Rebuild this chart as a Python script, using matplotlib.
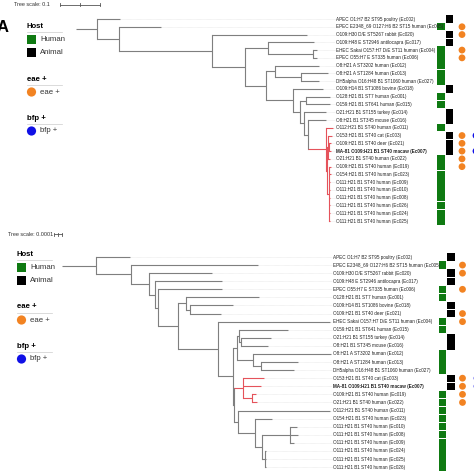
import matplotlib.pyplot as plt
from matplotlib.patches import Rectangle, Circle

plt.rcParams['font.family'] = ['Liberation Sans', 'DejaVu Sans']

# strain descriptions
STRAINS = {
    'Ec001': 'O128:H21 B1 ST7 human',
    'Ec002': 'APEC O1:H7 B2 ST95 poultry',
    'Ec003': 'O153:H21 B1 ST40 cat',
    'Ec004': 'EHEC Sakai O157:H7 D/E ST11 human',
    'Ec005': 'EPEC E2348_69 O127:H6 B2 ST15 human',
    'Ec006': 'EPEC O55:H7 E ST335 human',
    'Ec007': 'MA-81 O109:H21 B1 ST40 macaw',
    'Ec008': 'O111:H21 B1 ST40 human',
    'Ec009': 'O111:H21 B1 ST40 human',
    'Ec010': 'O111:H21 B1 ST40 human',
    'Ec011': 'O112:H21 B1 ST40 human',
    'Ec012': 'O8:H21 A ST3202 human',
    'Ec013': 'O8:H21 A ST1284 human',
    'Ec014': 'O21:H21 B1 ST155 turkey',
    'Ec015': 'O159:H21 B1 ST641 human',
    'Ec016': 'O8:H21 B1 ST345 mouse',
    'Ec017': 'O109:H48 E ST2946 antilocapra',
    'Ec018': 'O109:H14 B1 ST1086 bovine',
    'Ec019': 'O109:H21 B1 ST40 human',
    'Ec020': 'O109:H30 D/E ST5267 rabbit',
    'Ec021': 'O109:H21 B1 ST40 deer',
    'Ec022': 'O21:H21 B1 ST40 human',
    'Ec023': 'O154:H21 B1 ST40 human',
    'Ec024': 'O111:H21 B1 ST40 human',
    'Ec025': 'O111:H21 B1 ST40 human',
    'Ec026': 'O111:H21 B1 ST40 human',
    'Ec027': 'DH5alpha O16:H48 B1 ST1060 human',
}
ANIMAL_HOST = ['Ec002', 'Ec020', 'Ec017', 'Ec018', 'Ec014', 'Ec016', 'Ec003', 'Ec021', 'Ec007']
EAE_POS = ['Ec005', 'Ec020', 'Ec004', 'Ec006', 'Ec003', 'Ec021', 'Ec007', 'Ec022', 'Ec019']
BFP_POS = ['Ec003', 'Ec007']
HIGHLIGHT = 'Ec007'

# tree A, branch lengths in units of 1e-3
TREE_A = ("(Ec002:57.5,(Ec005:105,(Ec020:237.5,((Ec017:115,(Ec004:10,Ec006:10):112.5):57.5,"
          "((Ec012:110,(Ec013:67.5,Ec027:45):65):22.5,(Ec018:75,((Ec001:60,Ec015:60):15,"
          "(Ec014:55,(Ec016:45,(Ec011:17.5,((Ec003:10,(Ec021:5,Ec007:5):2.5,Ec022:5):2.5,"
          "(Ec019:5,Ec023:5,Ec009:2.5,Ec010:2.5,Ec008:2.5,Ec026:2.5,Ec024:2.5,Ec025:2.5):5):2.5):45"
          "):10):10):17.5):67.5):52.5):82.5):232.5):55):52.5;")
RED_A = ['Ec011', 'Ec003', 'Ec021', 'Ec007', 'Ec022', 'Ec019', 'Ec023',
         'Ec009', 'Ec010', 'Ec008', 'Ec026', 'Ec024', 'Ec025']
SCALE_A = 0.1
UNIT_A = 1e-3

# tree B, branch lengths in units of 1e-5
TREE_B = ("(Ec002:42,(Ec005:158,(Ec020:79,(Ec017:84,(Ec006:80,((Ec001:91,(Ec018:54,Ec021:39):4):10,"
          "(Ec004:141,(((Ec015:61,(Ec014:38,Ec016:34):2.5):2.5,(Ec012:98,(Ec013:46,Ec027:41):10):20):5,"
          "((Ec003:26,Ec007:22,(Ec019:5,Ec022:6):11):12,(Ec011:115,(Ec023:21,"
          "((Ec010:8,Ec008:9,Ec009:5):36,(Ec024:1,Ec025:2,Ec026:1):4):8):21):6):1):19):49):25):4):8):22):44):42;")
RED_B = ['Ec003', 'Ec007', 'Ec019', 'Ec022']
SCALE_B = 0.0001
UNIT_B = 1e-5

GRAY = '#7f7f7f'
RED = '#e5535b'
GREEN = '#0f7a12'
ORANGE = '#f28322'
BLUE = '#1010e6'


def parse_newick(s):
    pos = 0

    def node():
        nonlocal pos
        children = []
        if s[pos] == '(':
            pos += 1
            while True:
                children.append(node())
                if s[pos] == ',':
                    pos += 1
                else:
                    break
            pos += 1
        start = pos
        while s[pos] not in ',():;':
            pos += 1
        name = s[start:pos]
        length = 0.0
        if s[pos] == ':':
            pos += 1
            start = pos
            while s[pos] not in ',();':
                pos += 1
            length = float(s[start:pos])
        return {'name': name, 'len': length, 'children': children}

    return node()


def layout(tree, x0, px, y0, dy):
    leaves = []

    def walk(n, x):
        n['x'] = x
        if not n['children']:
            n['y'] = y0 + len(leaves) * dy
            n['leaves'] = {n['name']}
            leaves.append(n)
        else:
            n['leaves'] = set()
            for c in n['children']:
                walk(c, x + c['len'] * px)
                n['leaves'] |= c['leaves']
            n['y'] = (n['children'][0]['y'] + n['children'][-1]['y']) / 2

    walk(tree, x0)
    return leaves


def draw_tree(ax, tree, red, x0, px, y0, dy, label_x, col_h, col_a, col_e, col_b):
    leaves = layout(tree, x0, px, y0, dy)
    red = set(red)
    ax.plot([x0 - tree['len'] * px, x0], [tree['y']] * 2, color=GRAY, lw=0.8, solid_capstyle='butt')

    def draw(n):
        c_node = RED if n['leaves'] <= red else GRAY
        if n['children']:
            ax.plot([n['x']] * 2, [n['children'][0]['y'], n['children'][-1]['y']],
                    color=c_node, lw=0.8)
            for c in n['children']:
                cc = RED if c['leaves'] <= red else GRAY
                ax.plot([n['x'], c['x']], [c['y']] * 2, color=cc, lw=0.8, solid_capstyle='butt')
                draw(c)

    draw(tree)

    for lf in leaves:
        name = lf['name']
        y = lf['y']
        ax.plot([lf['x'] + 1, label_x - 1], [y, y], color='#d9d9d9', lw=0.4, ls=(0, (1, 1)))
        ax.text(label_x, y, f"{STRAINS[name]} ({name})", fontsize=3.3, va='center', ha='left',
                fontweight='bold' if name == HIGHLIGHT else 'normal', color='#222222')
        if name in ANIMAL_HOST:
            ax.add_patch(Rectangle((col_a - 3.6, y - 3.7), 7.2, 7.4, color='black', lw=0))
        else:
            ax.add_patch(Rectangle((col_h - 3.6, y - 3.7), 7.2, 7.4, color=GREEN, lw=0))
        if name in EAE_POS:
            ax.add_patch(Circle((col_e, y), 3.4, color=ORANGE, lw=0))
        if name in BFP_POS:
            ax.add_patch(Circle((col_b, y), 3.4, color=BLUE, lw=0))


def draw_legend(ax, x, y):
    items = [('Host', y), ('eae +', y + 53), ('bfp +', y + 92)]
    for title, ty in items:
        ax.text(x, ty, title, fontsize=5.6, fontweight='bold', va='center', ha='left')
        ax.plot([x, x + 35], [ty + 5.5, ty + 5.5], color='#cccccc', lw=0.5)
    ax.add_patch(Rectangle((x, y + 9), 9, 9, color=GREEN, lw=0))
    ax.text(x + 13, y + 13.5, 'Human', fontsize=5.6, va='center', color='#333333')
    ax.add_patch(Rectangle((x, y + 22), 9, 9, color='black', lw=0))
    ax.text(x + 13, y + 26.5, 'Animal', fontsize=5.6, va='center', color='#333333')
    ax.add_patch(Circle((x + 4.5, y + 66), 4.6, color=ORANGE, lw=0))
    ax.text(x + 13, y + 66, 'eae +', fontsize=5.6, va='center', color='#333333')
    ax.add_patch(Circle((x + 4.5, y + 105), 4.6, color=BLUE, lw=0))
    ax.text(x + 13, y + 105, 'bfp +', fontsize=5.6, va='center', color='#333333')


def draw_scale(ax, x, y, value, bar_px):
    ax.text(x, y, f'Tree scale: {value:g}', fontsize=4, va='center', ha='left', color='#333333')
    bx = x + 46
    ax.plot([bx, bx + bar_px], [y, y], color='#555555', lw=0.6)
    for t in (bx, bx + bar_px / 2, bx + bar_px):
        ax.plot([t, t], [y - 1.5, y + 1.5], color='#555555', lw=0.6)


fig = plt.figure(figsize=(4.74, 4.74), dpi=100)
ax = fig.add_axes([0, 0, 1, 1])
ax.set_xlim(0, 474)
ax.set_ylim(474, 0)
ax.axis('off')

px_a = 40 / (SCALE_A / UNIT_A)
px_b = 8 / (SCALE_B / UNIT_B)

draw_scale(ax, 14, 4.5, SCALE_A, SCALE_A / UNIT_A * px_a)
draw_scale(ax, 8, 234, SCALE_B, SCALE_B / UNIT_B * px_b)
ax.text(-3, 27, 'A', fontsize=12, fontweight='bold', va='center', ha='left')

draw_legend(ax, 27, 26)
draw_legend(ax, 17, 254)

draw_tree(ax, parse_newick(TREE_A), RED_A, 97, px_a, 19, 7.77, 336,
          441, 449.5, 462, 476)
draw_tree(ax, parse_newick(TREE_B), RED_B, 96, px_b, 257, 8.08, 333,
          442.5, 451, 462.5, 477)

fig.savefig('out.png', dpi=100)
